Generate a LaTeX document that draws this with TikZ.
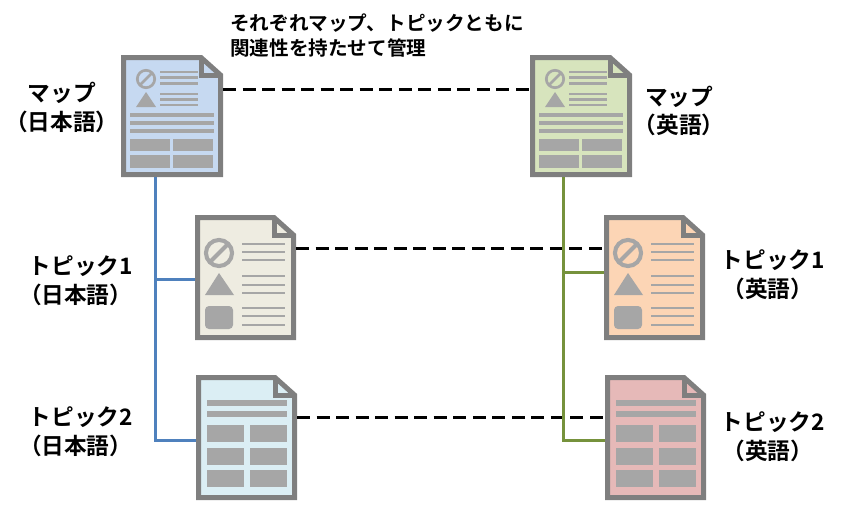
\documentclass[tikz,border=0pt]{standalone}
\usepackage{fontspec}
\setmainfont{Noto Sans CJK JP}[BoldFont={Noto Sans CJK JP Bold}]
\definecolor{docgray}{HTML}{7F7F7F}
\definecolor{icongray}{HTML}{A6A6A6}
\definecolor{blueline}{HTML}{4F81BD}
\definecolor{greenline}{HTML}{76923C}
\definecolor{fillmapja}{HTML}{C6D9F1}
\definecolor{fillmapen}{HTML}{D7E4BD}
\definecolor{fillaja}{HTML}{EEECE1}
\definecolor{fillaen}{HTML}{FCD5B5}
\definecolor{fillbja}{HTML}{DBEEF4}
\definecolor{fillben}{HTML}{E6B9B8}
\tikzset{
  docline/.style={draw=docgray,line width=3.75pt,line join=miter},
  ic/.style={fill=icongray,draw=none},
  lbl/.style={font=\bfseries\fontsize{17}{21.5}\selectfont,align=center,inner sep=0pt,text=black},
  ttl/.style={font=\bfseries\fontsize{14.7}{18.75}\selectfont,align=left,inner sep=0pt,text=black},
  dashlink/.style={draw=black,line width=2.25pt,dash pattern=on 9.75pt off 4.9pt},
  bluelink/.style={draw=blueline,line width=2.25pt},
  greenlink/.style={draw=greenline,line width=2.25pt},
}
% #1 name, #2 x, #3 y, #4 w, #5 h, #6 fill
\newcommand{\docshell}[6]{%
  \node[inner sep=0pt,outer sep=0pt,minimum width=#4*0.75pt,minimum height=#5*0.75pt,anchor=north west] (#1) at (#2,#3) {};
  \begin{scope}[shift={(#2,#3)}]
  \draw[docline,fill=#6] (2.5,2.5) -- ({#4-22},2.5) -- ({#4-2.5},20) -- ({#4-2.5},{#5-2.5}) -- (2.5,{#5-2.5}) -- cycle;
  \draw[docline] ({#4-22},2.5) -- ({#4-22},20) -- ({#4-2.5},20);
  \end{scope}}
\newcommand{\noentry}[3]{% cx cy r
  \draw[icongray,line width=#3*0.27*0.75pt] (#1,#2) circle ({#3*0.87});
  \draw[icongray,line width=#3*0.27*0.75pt] ({#1-#3*0.6},{#2+#3*0.6}) -- ({#1+#3*0.6},{#2-#3*0.6});}
\newcommand{\mapicons}{%
  \noentry{25}{24}{10}
  \fill[ic] (25,37) -- (35,52) -- (15,52) -- cycle;
  \foreach \y in {17,22.5,28.5,39,44.5,50} \fill[ic] (39,\y-1.2) rectangle (77,\y+1.2);
  \foreach \y in {58,66,74} \fill[ic] (9,\y) rectangle (93,\y+4);
  \fill[ic] (9,84) rectangle (49,96); \fill[ic] (52,84) rectangle (92,96);
  \fill[ic] (9,100) rectangle (49,113); \fill[ic] (52,100) rectangle (92,113);}
\newcommand{\topicicons}{%
  \noentry{24}{38}{15}
  \fill[ic] (24,58) -- (39,80) -- (10,80) -- cycle;
  \fill[ic,rounded corners=3pt] (10,91) rectangle (38,114);
  \foreach \y in {29,37,45,61,70,78,93,101,110} \fill[ic] (47,\y-1.4) rectangle (90,\y+1.4);}
\newcommand{\tableicons}{%
  \fill[ic] (11,25) rectangle (91,31); \fill[ic] (11,36) rectangle (91,42);
  \foreach \y/\h in {50/17,73/17,95/17} {
    \fill[ic] (11,\y) rectangle (48,\y+\h); \fill[ic] (54,\y) rectangle (91,\y+\h);}}
\begin{document}
\begin{tikzpicture}[x=0.75pt,y=-0.75pt]
\useasboundingbox (0,0) rectangle (851,521);
\docshell{mapja}{121}{55}{102}{122}{fillmapja}
\begin{scope}[shift={(121,55)}]\mapicons\end{scope}
\docshell{mapen}{530}{55}{102}{122}{fillmapen}
\begin{scope}[shift={(530,55)}]\mapicons\end{scope}
\docshell{topaja}{195}{215}{101}{125}{fillaja}
\begin{scope}[shift={(195,215)}]\topicicons\end{scope}
\docshell{topaen}{604}{215}{101}{125}{fillaen}
\begin{scope}[shift={(604,215)}]\topicicons\end{scope}
\docshell{topbja}{196}{375}{101}{125}{fillbja}
\begin{scope}[shift={(196,375)}]\tableicons\end{scope}
\docshell{topben}{605}{375}{101}{125}{fillben}
\begin{scope}[shift={(605,375)}]\tableicons\end{scope}
% dashed links
\coordinate (d1) at (0,89);
\coordinate (d2) at (0,248);
\coordinate (d3) at (0,417);
\draw[dashlink] (mapja.east |- d1) -- (mapen.west |- d1);
\draw[dashlink] (topaja.east |- d2) -- (topaen.west |- d2);
\draw[dashlink] (topbja.east |- d3) -- (topben.west |- d3);
% trees
\coordinate (bjoin) at (155,279);
\coordinate (bend) at (155,440);
\draw[bluelink,line join=miter] (bend |- mapja.south) -- (bend) -- (topbja.west |- bend);
\draw[bluelink] (bjoin) -- (topaja.west |- bjoin);
\coordinate (gjoin) at (563,272);
\coordinate (gend) at (563,440);
\draw[greenlink,line join=miter] (gend |- mapen.south) -- (gend) -- (topben.west |- gend);
\draw[greenlink] (gjoin) -- (topaen.west |- gjoin);
% labels
\node[ttl,anchor=west] (ttl) at (230,36) {それぞれマップ、トピックともに\\関連性を持たせて管理};
\node[lbl] (l1) at (62,107.5) {マップ\\（日本語）};
\node[lbl] (l2) at (679,111) {マップ\\（英語）};
\node[lbl] (l3) at (81,281) {トピック1\\（日本語）\hspace*{8pt}};
\node[lbl] (l4) at (773,275) {トピック1\\（英語）\hspace*{8pt}};
\node[lbl] (l5) at (81,432) {トピック2\\（日本語）\hspace*{8pt}};
\node[lbl] (l6) at (773,437) {トピック2\\（英語）\hspace*{8pt}};
\end{tikzpicture}
\end{document}
